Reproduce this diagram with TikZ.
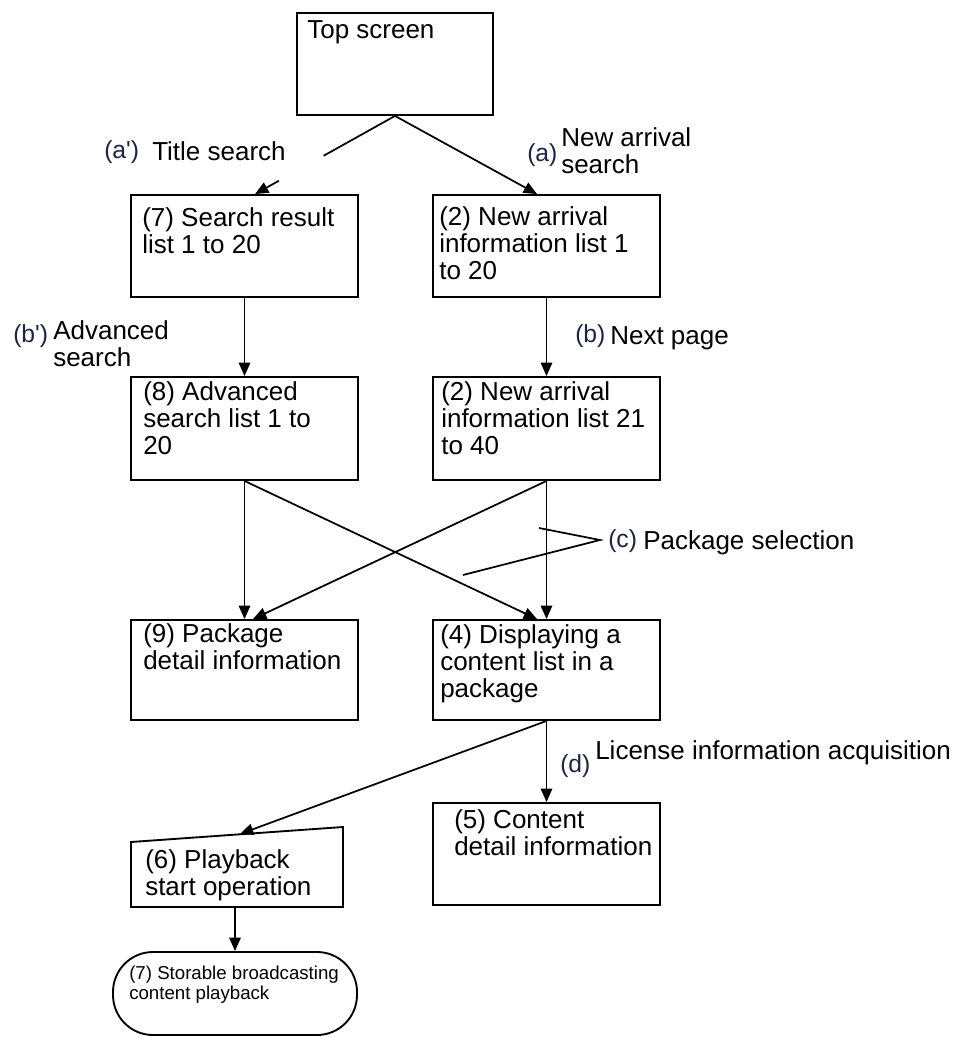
\documentclass[tikz,border=0pt]{standalone}
\usepackage{fontspec}
\setmainfont{Liberation Sans}
\usetikzlibrary{arrows.meta,positioning}
\definecolor{tagink}{RGB}{30,36,62}
\tikzset{
  scrbox/.style={draw,line width=1.4pt,minimum width=170.25pt,minimum height=76.5pt,inner sep=0pt},
  boxtxt/.style={anchor=north west,inner sep=0pt,align=left,font=\fontsize{19.5}{20.25}\selectfont,execute at begin node=\strut},
  lbltxt/.style={anchor=base west,inner sep=0pt,font=\fontsize{19.5}{20.25}\selectfont},
  tagtxt/.style={anchor=base west,inner sep=0pt,text=tagink,font=\fontsize{18.5}{19}\selectfont},
  flow/.style={line width=1.3pt,-{Triangle[length=10pt,width=8.5pt]}},
  lead/.style={line width=1.3pt}
}
\begin{document}
\begin{tikzpicture}[x=0.75pt,y=-0.75pt]
\useasboundingbox (0,0) rectangle (962,1037);
% screens
\node[scrbox,minimum width=147pt] (top) at (395,64) {};
\node[scrbox] (srch) at (244.5,246) {};
\node[scrbox] (new1) at (546.5,246) {};
\node[scrbox,minimum height=77.25pt] (adv) at (244.5,428.5) {};
\node[scrbox,minimum height=77.25pt] (new2) at (546.5,428.5) {};
\node[scrbox,minimum height=75pt] (pkg) at (244.5,670) {};
\node[scrbox,minimum height=75pt] (cont) at (546.5,670) {};
\node[scrbox] (det) at (546.5,854) {};
% playback box, its top edge is slanted
\coordinate (P1) at (131,842);
\coordinate (P2) at (343,827);
\coordinate (P3) at (343,907);
\coordinate (P4) at (131,907);
\draw[line width=1.4pt] (P1) to (P2) to (P3) to (P4) to cycle;
\node[draw,line width=1.4pt,rounded corners=30pt,minimum width=183pt,minimum height=62.25pt,inner sep=0pt] (store) at (235,993.5) {};
% box texts
\node[boxtxt] (toptxt) at (307,19) {Top screen};
\node[boxtxt] (srchtxt) at (142,207) {(7) Search result\\list 1 to 20};
\node[boxtxt] (new1txt) at (439,206) {(2) New arrival\\information list 1\\to 20};
\node[boxtxt] (advtxt) at (143,381) {(8) Advanced\\search list 1 to\\20};
\node[boxtxt] (new2txt) at (441,381) {(2) New arrival\\information list 21\\to 40};
\node[boxtxt] (pkgtxt) at (143,623) {(9) Package\\detail information};
\node[boxtxt] (conttxt) at (440,624) {(4) Displaying a\\content list in a\\package};
\node[boxtxt] (playtxt) at (145,849) {(6) Playback\\start operation};
\node[boxtxt] (dettxt) at (454,809) {(5) Content\\detail information};
\node[boxtxt,font=\fontsize{14}{15}\selectfont] (storetxt) at (129,966) {(7) Storable broadcasting\\content playback};
% transitions
\node[tagtxt] (ta1) at (104,159) {(a\textquotesingle)};
\node[lbltxt] (la1) at (152,161) {Title search};
\node[tagtxt] (ta) at (527,162) {(a)};
\node[boxtxt] (la) at (561,127) {New arrival\\search};
\node[tagtxt] (tb1) at (13,342) {(b\textquotesingle)};
\node[boxtxt] (lb1) at (53,320) {Advanced\\search};
\node[tagtxt] (tb) at (575,342) {(b)};
\node[lbltxt] (lb) at (610,344) {Next page};
\node[tagtxt] (tc) at (608,547) {(c)};
\node[lbltxt] (lc) at (643,549) {Package selection};
\node[tagtxt] (td) at (560,772) {(d)};
\node[lbltxt] (ld) at (595,759) {License information acquisition};
% arrows
\coordinate (srchin) at ([xshift=7.9pt]srch.north);
\coordinate (new1in) at ([xshift=-7.1pt]new1.north);
\path (top.south) -- coordinate[pos=0.51] (gapA) coordinate[pos=0.83] (gapB) (srchin);
\draw[lead] (top.south) to (gapA);
\draw[flow] (gapB) to (srchin);
\draw[flow] (top.south) to (new1in);
\draw[flow] (srch.south) to (adv.north);
\draw[flow] (new1.south) to (new2.north);
\draw[flow] (adv.south) to (pkg.north);
\draw[flow] (new2.south) to (cont.north);
\coordinate (contin) at ([xshift=-7.1pt]cont.north);
\coordinate (pkgin) at ([xshift=6.4pt]pkg.north);
\draw[flow] (adv.south) to (contin);
\draw[flow] (new2.south) to (pkgin);
\draw[flow] (cont.south) to (det.north);
\coordinate (playin) at (240,834);
\draw[flow] (cont.south) to (playin);
\coordinate (playout) at (235,907);
\draw[flow] (playout) to (store.north);
% leader lines of (c)
\coordinate (cA) at (539,528);
\coordinate (cB) at (463,575);
\coordinate (cC) at (600,540);
\draw[lead] (cA) to (cC) to (cB);
\end{tikzpicture}
\end{document}
